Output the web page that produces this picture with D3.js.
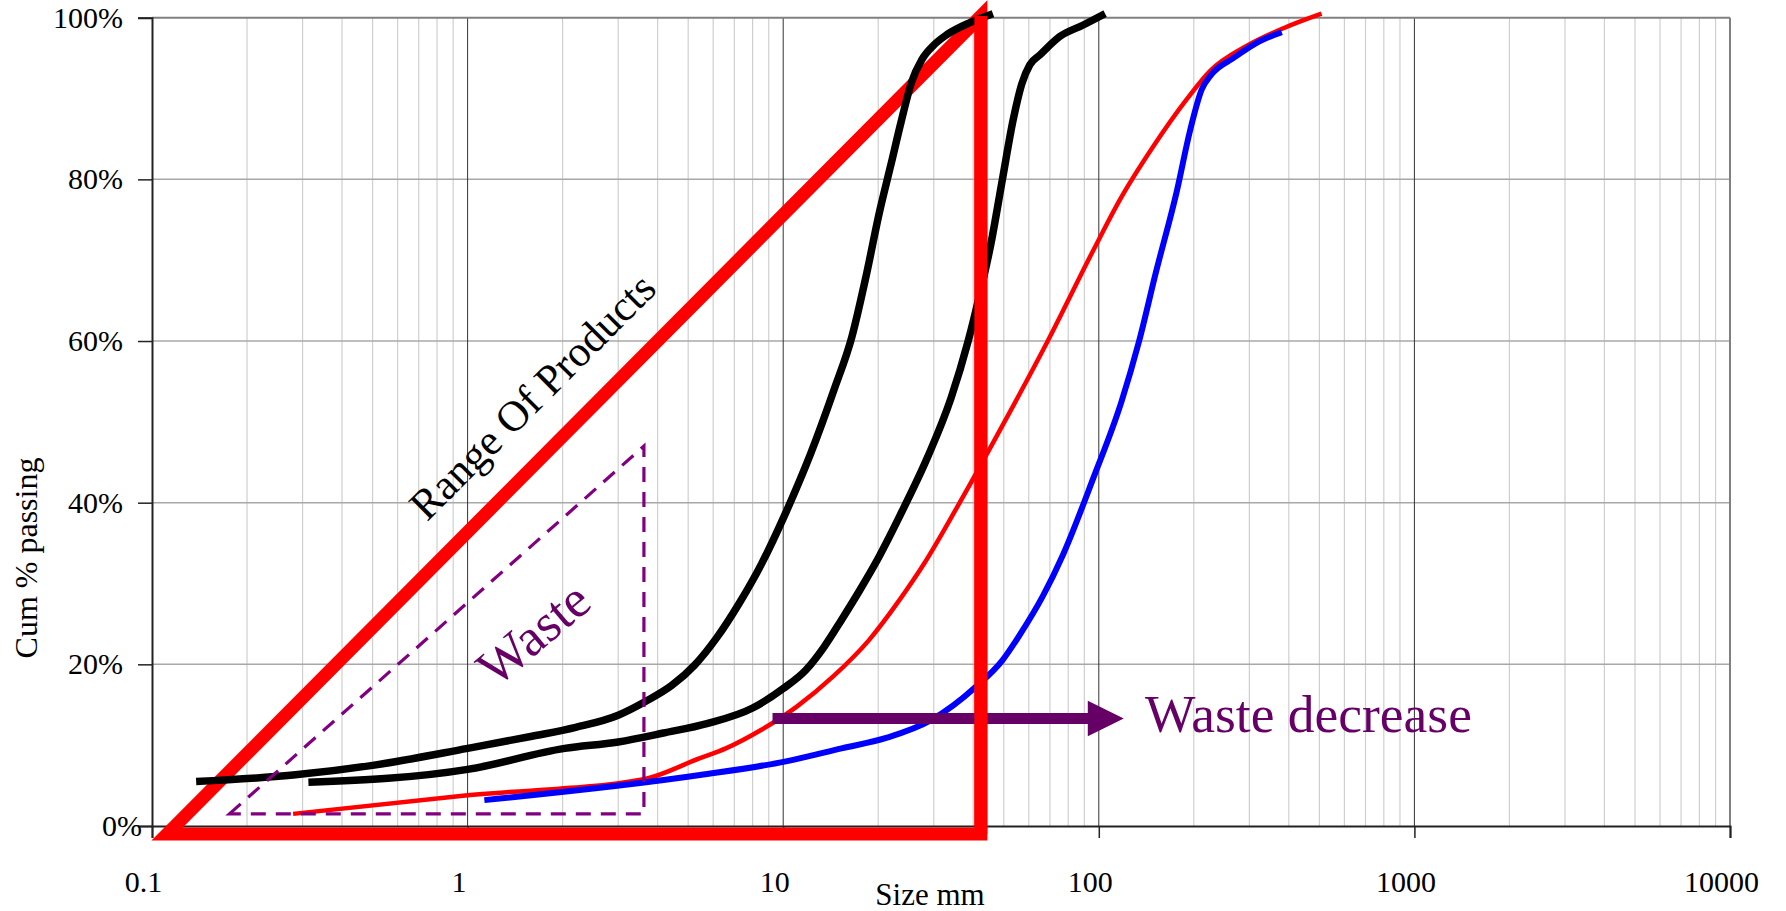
<!DOCTYPE html>
<html>
<head>
<meta charset="utf-8">
<script src="https://cdn.jsdelivr.net/npm/d3@7"></script>
<style>
  html, body { margin: 0; padding: 0; background: #fff; }
  svg { display: block; }
  text { font-family: "Liberation Serif", "Times New Roman", serif; }
</style>
</head>
<body>
<svg id="chart" width="1786" height="911"></svg>
<script>
// ---------- data ----------
const xTicks = [0.1, 1, 10, 100, 1000, 10000];
const xTickLabels = ["0.1", "1", "10", "100", "1000", "10000"];
const yTicks = [0, 20, 40, 60, 80, 100];
const yTickLabels = ["0%", "20%", "40%", "60%", "80%", "100%"];

// [size mm, cum % passing]
const blackFine = [[0.138,5.5],[0.28,6.3],[0.5,7.5],[1.0,9.6],[1.6,11.1],[2.2,12.2],[3.0,13.7],[3.66,15.4],[4.44,17.4],[5.24,19.9],[6.16,23.3],[7.24,27.5],[8.53,32.4],[10.2,38.8],[12.2,46],[14.5,54],[16.5,60.5],[18.3,68],[20.2,76],[22,82],[23.6,87],[25.5,92],[27.5,94.8],[30,96.6],[33,97.9],[39.1,99.4],[46.2,100.5]];
const blackCoarse = [[0.313,5.4],[1.0,7.0],[2.03,9.6],[3.0,10.4],[4.17,11.5],[5.77,12.7],[8.0,14.6],[10,17.0],[11.8,19.3],[13.5,22.2],[15.3,25.5],[17.5,29.2],[19.6,32.5],[23.5,38.5],[28.8,45.8],[34,52.9],[38.5,59.9],[41.5,65],[45.5,72],[49.5,80],[53.5,87.3],[57,91.8],[60.5,94.2],[65.1,95.4],[75.4,97.7],[89.3,99.1],[104.7,100.5]];
const redCurve = [[0.28,1.5],[1.0,3.8],[3.61,5.8],[5.45,8.4],[6.58,9.6],[8.53,11.9],[11.07,14.8],[14.4,18.5],[18.7,23.0],[23.4,28.0],[28,32.5],[35.4,39.3],[49.3,49.4],[68.9,60],[96,71.2],[116.7,77.5],[148.9,84.1],[189.8,89.9],[225,93.4],[294,96.5],[384.6,98.7],[508,100.5]];
const blueCurve = [[1.13,3.2],[5.45,6.3],[10.2,8.0],[15.3,9.6],[21.2,10.9],[29.4,13.1],[40.7,17.2],[49.5,20.5],[56.5,23.8],[66.4,28.4],[76.9,33.5],[96,43],[118,52.5],[134,59.9],[151.7,68.5],[176.6,78.5],[194.5,86],[211.8,91.1],[227.8,93.0],[266.9,95],[324,97.1],[380,98.2]];

const rangeTriangle = [[0.1116,-1],[42.3,100.2],[42.3,-1]];
const wasteTriangle = [[0.176,1.5],[3.62,47],[3.62,1.5]];
const arrowFrom = [9.25, 13.3];
const arrowTo = [120, 13.3];

const xTitle = "Size mm";
const yTitle = "Cum % passing";
const rangeLabel = "Range Of Products";
const wasteLabel = "Waste";
const arrowLabel = "Waste decrease";

// ---------- layout ----------
const svg = d3.select("#chart");
const L = 152, R = 1730, T = 17.7, B = 826;
const x = d3.scaleLog().domain([0.1, 10000]).range([L, R]);
const y = d3.scaleLinear().domain([0, 100]).range([B, T]);

// minor vertical gridlines
const minor = [];
for (let e = -1; e < 4; e++) for (let k = 2; k <= 9; k++) minor.push(k * Math.pow(10, e));
svg.append("g").selectAll("line").data(minor).join("line")
  .attr("x1", d => x(d)).attr("x2", d => x(d)).attr("y1", T).attr("y2", B)
  .attr("stroke", "#cfcfcf").attr("stroke-width", 1.2);

// horizontal gridlines
svg.append("g").selectAll("line").data(yTicks.filter(d => d > 0 && d < 100)).join("line")
  .attr("x1", L).attr("x2", R).attr("y1", d => y(d)).attr("y2", d => y(d))
  .attr("stroke", "#a8a8a8").attr("stroke-width", 1.5);

// major vertical gridlines
svg.append("g").selectAll("line").data(xTicks.filter(d => d > 0.1 && d < 10000)).join("line")
  .attr("x1", d => x(d)).attr("x2", d => x(d)).attr("y1", T).attr("y2", B)
  .attr("stroke", "#333").attr("stroke-width", 1);

// frame top / right
svg.append("line").attr("x1", L).attr("x2", R).attr("y1", T).attr("y2", T)
  .attr("stroke", "#808080").attr("stroke-width", 2);
svg.append("line").attr("x1", R).attr("x2", R).attr("y1", T).attr("y2", B)
  .attr("stroke", "#808080").attr("stroke-width", 2);

// axes
const yAxis = d3.axisLeft(y).tickValues(yTicks).tickFormat((d, i) => yTickLabels[i])
  .tickSize(14).tickPadding(15);
const gy = svg.append("g").attr("transform", `translate(${L},0)`).call(yAxis);
gy.select(".domain").attr("stroke", "#222").attr("stroke-width", 2);
gy.selectAll(".tick line").attr("stroke", "#222").attr("stroke-width", 1.5);
gy.selectAll(".tick text").attr("font-size", 30).attr("fill", "#000")
  .attr("font-family", '"Liberation Serif", "Times New Roman", serif')
  .attr("x", d => d === 0 ? -10 : -29);

const xAxis = d3.axisBottom(x).tickValues(xTicks).tickFormat((d, i) => xTickLabels[i])
  .tickSize(12);
const gx = svg.append("g").attr("transform", `translate(0,${B})`).call(xAxis);
gx.select(".domain").attr("stroke", "#222").attr("stroke-width", 2);
gx.selectAll(".tick line").attr("stroke", "#222").attr("stroke-width", 1.5);
gx.selectAll(".tick text").attr("font-size", 30).attr("fill", "#000")
  .attr("font-family", '"Liberation Serif", "Times New Roman", serif')
  .attr("y", 66).attr("dy", 0).attr("dx", -9);

// axis titles
svg.append("text").attr("x", 930).attr("y", 905).attr("text-anchor", "middle")
  .attr("font-size", 31).text(xTitle);
svg.append("text").attr("transform", "translate(37,558) rotate(-90)")
  .attr("text-anchor", "middle").attr("font-size", 32).text(yTitle);

// curves
const line = d3.line().x(d => x(d[0])).y(d => y(d[1])).curve(d3.curveMonotoneX);
svg.append("path").datum(redCurve).attr("d", line).attr("fill", "none")
  .attr("stroke", "#ff0000").attr("stroke-width", 4.5);
svg.append("path").datum(blueCurve).attr("d", line).attr("fill", "none")
  .attr("stroke", "#0000ff").attr("stroke-width", 6);

// range of products triangle
const poly = d3.line().x(d => x(d[0])).y(d => y(d[1]));
svg.append("path").attr("d", poly(rangeTriangle) + "Z").attr("fill", "none")
  .attr("stroke", "#ff0000").attr("stroke-width", 13).attr("stroke-linejoin", "miter")
  .attr("stroke-miterlimit", 10);

svg.append("path").datum(blackFine).attr("d", line).attr("fill", "none")
  .attr("stroke", "#000").attr("stroke-width", 7.5);
svg.append("path").datum(blackCoarse).attr("d", line).attr("fill", "none")
  .attr("stroke", "#000").attr("stroke-width", 7.5);

// waste triangle (dashed)
svg.append("path").attr("d", poly(wasteTriangle) + "Z").attr("fill", "none")
  .attr("stroke", "#800080").attr("stroke-width", 3.2).attr("stroke-dasharray", "15,10");

// arrow
const ax0 = x(arrowFrom[0]), ax1 = x(arrowTo[0]), ay = y(arrowFrom[1]);
const headLen = 36, headHalf = 17.7, shaftHalf = 5.4;
svg.append("path")
  .attr("d", `M${ax0},${ay - shaftHalf}L${ax1 - headLen},${ay - shaftHalf}L${ax1 - headLen},${ay - headHalf}` +
             `L${ax1},${ay}L${ax1 - headLen},${ay + headHalf}L${ax1 - headLen},${ay + shaftHalf}L${ax0},${ay + shaftHalf}Z`)
  .attr("fill", "#660066");

// re-draw red vertical over arrow
svg.append("path").attr("d", poly([rangeTriangle[1], rangeTriangle[2]])).attr("fill", "none")
  .attr("stroke", "#ff0000").attr("stroke-width", 13);

// annotations
svg.append("text").attr("transform", "translate(532,396) rotate(-45)")
  .attr("text-anchor", "middle").attr("dy", "0.35em").attr("font-size", 43).attr("fill", "#000")
  .text(rangeLabel);
svg.append("text").attr("transform", "translate(533,633) rotate(-40)")
  .attr("text-anchor", "middle").attr("dy", "0.35em").attr("font-size", 53).attr("fill", "#660066")
  .text(wasteLabel);
svg.append("text").attr("x", 1145).attr("y", 732).attr("font-size", 53.5).attr("fill", "#660066")
  .text(arrowLabel);
</script>
</body>
</html>
